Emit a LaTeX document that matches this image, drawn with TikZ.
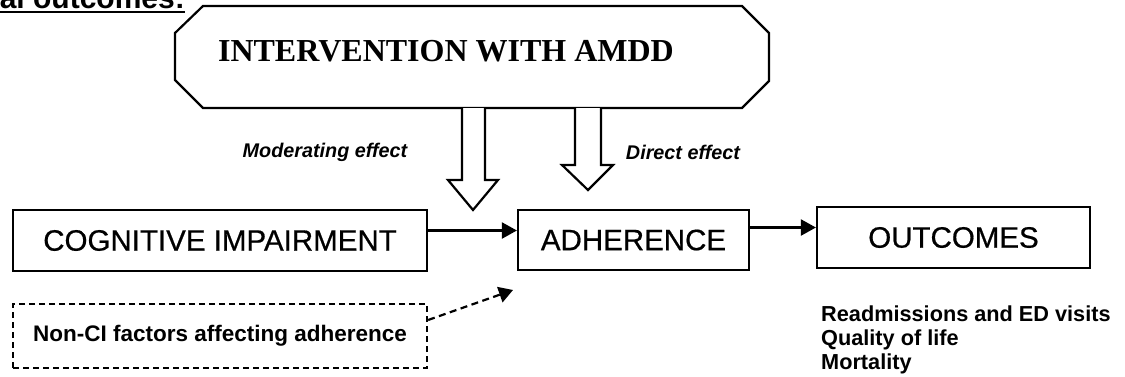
\documentclass[tikz,border=0pt]{standalone}
\usepackage{fontspec}
\setmainfont{Liberation Sans}
\newfontfamily\titleserif{Liberation Serif}
\usetikzlibrary{arrows.meta}
\begin{document}
\begin{tikzpicture}[x=1pt,y=-1pt,
  frame/.style={draw, line width=2.2pt, line join=miter},
  box/.style={draw, line width=2.2pt, inner sep=0pt,
    font=\addfontfeature{FakeBold=0.6}\fontsize{29.5}{34}\selectfont},
  dashbox/.style={draw, line width=2.2pt, dash pattern=on 6pt off 4pt,
    inner sep=0pt, font=\bfseries\fontsize{22.5}{26}\selectfont},
  link/.style={line width=2.2pt, -{Triangle[length=15pt,width=16pt]}},
  dashlink/.style={line width=2.2pt, dash pattern=on 7pt off 4.5pt,
    -{Triangle[length=14pt,width=16pt]}},
  blockarrow/.style={draw, fill=white, line width=2.2pt, line join=miter},
  effect/.style={font=\bfseries\itshape\fontsize{19.8}{24}\selectfont},
  result/.style={font=\bfseries\fontsize{21.7}{24}\selectfont, align=left,
    inner sep=0pt, anchor=north west}
]
\useasboundingbox (0,0) rectangle (1125,376);
\clip (0,0) rectangle (1125,376);

% heading fragment along the top edge
\node[font=\bfseries\fontsize{30}{34}\selectfont, anchor=base east,
  inner sep=0pt] (hdr) at (185,8) {clinical outcomes:};
\draw[line width=2.8pt] (hdr.base west |- 0,12) -- (hdr.base east |- 0,12);

% intervention frame with cut corners
\draw[frame] (203,6) -- (742,6) -- (769,33) -- (769,81) -- (742,108)
  -- (203,108) -- (175,80) -- (175,33) -- cycle;
\node[font=\titleserif\bfseries\fontsize{32}{38}\selectfont] (iv) at (446,51)
  {INTERVENTION WITH AMDD};

% hollow block arrows hanging from the frame
\coordinate (modtip) at (473,210);
\coordinate (dirtip) at (588,190);
\draw[blockarrow] (462,108) -- (462,180) -- (448,180) -- (modtip)
  -- (498,180) -- (485,180) -- (485,108);
\draw[blockarrow] (575,108) -- (575,165) -- (562,165) -- (dirtip)
  -- (613,165) -- (601,165) -- (601,108);

\node[effect] (mod) at (325,152) {Moderating effect};
\node[effect] (dir) at (683,152) {Direct effect};

% main chain
\node[box, minimum width=414pt, minimum height=61pt] (cog) at (220,240.5)
  {COGNITIVE IMPAIRMENT};
\node[box, minimum width=231pt, minimum height=60pt] (adh) at (633.5,240)
  {ADHERENCE};
\node[box, minimum width=273pt, minimum height=61pt] (out) at (953.5,237.5)
  {OUTCOMES};

\draw[link] ([yshift=10pt]cog.east) -- ([yshift=10pt]cog.east -| adh.west);
\draw[link] ([yshift=10pt]out.west -| adh.east) -- ([yshift=10pt]out.west);

% other factors
\node[dashbox, minimum width=414pt, minimum height=64pt] (ncf) at (220,336)
  {Non-CI factors affecting adherence};
\coordinate (ncftip) at (513,290);
\draw[dashlink] ([yshift=16pt]ncf.east) -- (ncftip);

\node[result] (res) at (821,306)
  {Readmissions and ED visits\\Quality of life\\Mortality};
\end{tikzpicture}
\end{document}
